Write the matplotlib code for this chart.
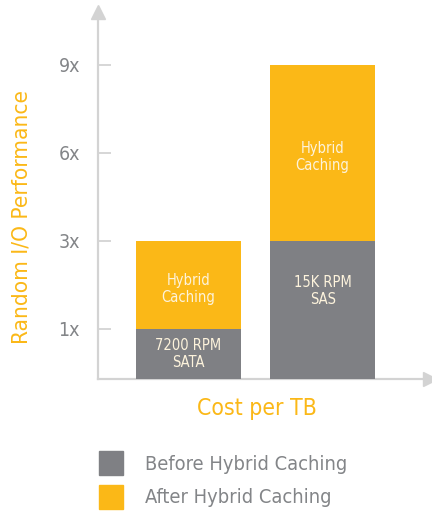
import numpy as np
import matplotlib
matplotlib.use("Agg")
import matplotlib.pyplot as plt
from matplotlib import font_manager
from matplotlib.patches import Patch

# data
drives = ["7200 RPM\nSATA", "15K RPM\nSAS"]
before = [1, 3]          # performance before hybrid caching (x)
after = [3, 9]           # total performance after hybrid caching (x)
yticks = [1, 3, 6, 9]
ytick_labels = ["1x", "3x", "6x", "9x"]
cache_label = "Hybrid\nCaching"
legend_labels = ["Before Hybrid Caching", "After Hybrid Caching"]

GRAY = "#7f8084"
GOLD = "#fbb817"
AXIS = "#d3d3d3"
TICKTXT = "#838588"

names = {f.name for f in font_manager.fontManager.ttflist}
if "Liberation Sans Narrow" in names:
    plt.rcParams["font.family"] = ["Liberation Sans Narrow", "DejaVu Sans"]
    stretch = "normal"
else:
    plt.rcParams["font.family"] = ["DejaVu Sans"]
    stretch = "condensed"
plt.rcParams["font.stretch"] = stretch

# the value axis is not linear: piecewise mapping of the tick positions
knots_v = np.array([0, 1, 3, 9, 12])
knots_p = np.array([0, 50, 138, 314, 402.0])
def fwd(v):
    return np.interp(v, knots_v, knots_p)
def inv(p):
    return np.interp(p, knots_p, knots_v)

fig = plt.figure(figsize=(4.32, 5.14), dpi=100)
W, H = 432, 514
ax = fig.add_axes([98 / W, 1 - 379 / H, (430 - 98) / W, (379 - 12) / H])
ax.set_yscale("function", functions=(fwd, inv))
ax.set_ylim(0, inv(367))

x = np.arange(len(drives))
xc = x * 1.0
ax.set_xlim(-0.675, 1.80)
w = 105 / 134
top_part = [a - b for a, b in zip(after, before)]
ax.bar(xc, before, width=w, color=GRAY, zorder=2)
ax.bar(xc, top_part, bottom=before, width=w, color=GOLD, zorder=2)

lab_kw = dict(ha="center", va="center", color="#fdf3dc", fontsize=10.5, linespacing=1.15)
for i in range(len(drives)):
    gy = fwd(before[i] / 2) if fwd(before[i]) < 100 else fwd(before[i]) - 50
    ax.text(xc[i], inv(gy), drives[i], **lab_kw)
    cy = (fwd(before[i]) + fwd(after[i])) / 2 - 4
    ax.text(xc[i], inv(cy), cache_label, **lab_kw)

for s in ["top", "right"]:
    ax.spines[s].set_visible(False)
for s in ["left", "bottom"]:
    ax.spines[s].set_color(AXIS)
    ax.spines[s].set_linewidth(1.6)
    ax.spines[s].set_zorder(1)
ax.plot(0, 1, "^", transform=ax.transAxes, color=AXIS, ms=10, clip_on=False)
ax.plot(1, 0, ">", transform=ax.transAxes, color=AXIS, ms=10, clip_on=False)

ax.set_xticks([])
ax.set_yticks(yticks)
ax.set_yticklabels(ytick_labels)
ax.minorticks_off()
ax.tick_params(axis="y", direction="in", length=9, width=1.3, color=AXIS,
               pad=13, labelsize=14, labelcolor=TICKTXT)

fig.text(22 / W, 1 - 217 / H, "Random I/O Performance", rotation=90, ha="center",
         va="center", color=GOLD, fontsize=16.2)
fig.text(257 / W, 1 - 408 / H, "Cost per TB", ha="center", va="center",
         color=GOLD, fontsize=16.5)

handles = [Patch(color=GRAY), Patch(color=GOLD)]
fig.legend(handles, legend_labels, loc="upper left", bbox_to_anchor=(89 / W, 1 - 441 / H),
           frameon=False, fontsize=14.4, handlelength=1.2, handleheight=1.45,
           handletextpad=1.1, labelspacing=0.5, labelcolor=TICKTXT, borderpad=0)

fig.savefig("out.png", dpi=100)
